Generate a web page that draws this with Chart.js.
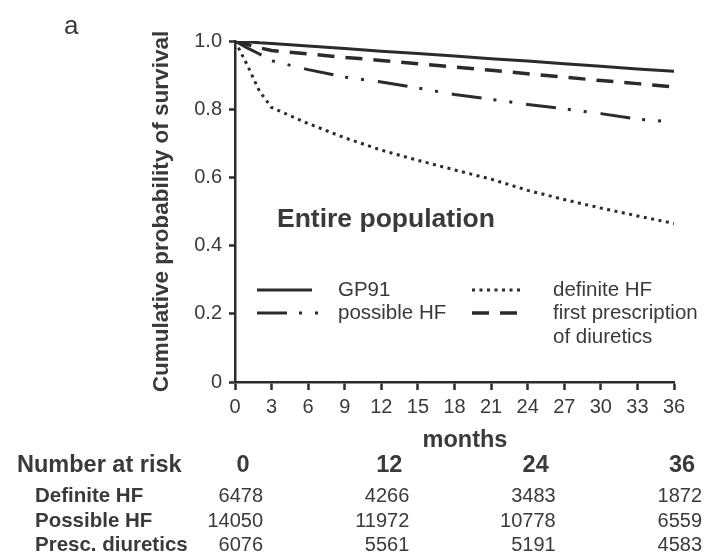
<!DOCTYPE html>
<html>
<head>
<meta charset="utf-8">
<script src="https://cdn.jsdelivr.net/npm/chart.js@4"></script>
<style>
  html, body { margin: 0; padding: 0; background: #fff; }
  canvas { display: block; }
</style>
</head>
<body>
<canvas id="survivalChart" width="707" height="558"></canvas>
<script>
// months on the x axis, survival
const months = [0, 1, 2, 3, 6, 9, 12, 15, 18, 21, 24, 27, 30, 33, 36];
const gp91 = [1.0, 0.998, 0.995, 0.993, 0.985, 0.978, 0.970, 0.963, 0.956, 0.948, 0.941, 0.933, 0.926, 0.918, 0.911];
const definiteHF = [1.0, 0.93, 0.853, 0.805, 0.758, 0.716, 0.68, 0.65, 0.622, 0.595, 0.562, 0.535, 0.51, 0.487, 0.465];
const possibleHF = [1.0, 0.98, 0.962, 0.942, 0.916, 0.894, 0.88, 0.862, 0.843, 0.829, 0.814, 0.801, 0.787, 0.771, 0.762];
const diuretics = [1.0, 0.99, 0.98, 0.972, 0.962, 0.952, 0.943, 0.933, 0.924, 0.914, 0.904, 0.894, 0.884, 0.875, 0.865];

const xTickValues = [0, 3, 6, 9, 12, 15, 18, 21, 24, 27, 30, 33, 36];
const yTickValues = [0, 0.2, 0.4, 0.6, 0.8, 1.0];

// number at risk table
const riskMonths = [0, 12, 24, 36];
const riskRowLabels = ['Definite HF', 'Possible HF', 'Presc. diuretics'];
const riskDefinite = [6478, 4266, 3483, 1872];
const riskPossible = [14050, 11972, 10778, 6559];
const riskDiuretics = [6076, 5561, 5191, 4583];

const ink = '#2b2b2b';
const textGray = '#3a3a3a';
const fontFam = '"Liberation Sans", Arial, Helvetica, sans-serif';

function pts(ys) {
    return months.map((m, i) => ({ x: m, y: ys[i] }));
}

const dsBase = { borderColor: ink, pointRadius: 0, tension: 0, fill: false, borderCapStyle: 'butt' };

const datasets = [
    Object.assign({}, dsBase, { label: 'GP91', data: pts(gp91), borderWidth: 3, borderDash: [] }),
    Object.assign({}, dsBase, { label: 'definite HF', data: pts(definiteHF), borderWidth: 3, borderDash: [3, 4.5] }),
    Object.assign({}, dsBase, { label: 'possible HF', data: pts(possibleHF), borderWidth: 3, borderDash: [30, 12, 3, 13, 3, 14] }),
    Object.assign({}, dsBase, { label: 'first prescription\nof diuretics', data: pts(diuretics), borderWidth: 3.5, borderDash: [17, 11] })
];

// legend slots: [lineStartX, lineLength, textX, rowY]
const legendSlots = [
    [257, 55, 338, 290],
    [472, 51, 553, 290],
    [257, 62, 338, 313],
    [472, 45, 553, 313]
];

const annotations = {
    id: 'annotations',
    afterDraw(chart) {
        const c = chart.ctx;
        const xs = chart.scales.x;
        const area = chart.chartArea;
        c.save();
        c.fillStyle = textGray;
        c.textBaseline = 'middle';

        // panel letter
        c.font = '26px ' + fontFam;
        c.textAlign = 'left';
        c.fillText('a', 64, 27);

        // y axis title
        c.save();
        c.translate(162, (area.top + area.bottom) / 2);
        c.rotate(-Math.PI / 2);
        c.textAlign = 'center';
        c.font = 'bold 22.5px ' + fontFam;
        c.fillText('Cumulative probability of survival', 0, 0);
        c.restore();

        // x axis title
        c.textAlign = 'center';
        c.font = 'bold 23.5px ' + fontFam;
        c.fillText('months', 465, 441);

        // inset title
        c.textAlign = 'left';
        c.font = 'bold 26.5px ' + fontFam;
        c.fillText('Entire population', 277, 220);

        // legend
        chart.data.datasets.forEach((ds, i) => {
            const s = legendSlots[i];
            c.save();
            c.strokeStyle = ds.borderColor;
            c.lineWidth = ds.borderWidth;
            c.setLineDash(ds.borderDash);
            c.beginPath();
            c.moveTo(s[0], s[3]);
            c.lineTo(s[0] + s[1], s[3]);
            c.stroke();
            c.restore();
            c.font = '20.5px ' + fontFam;
            c.textAlign = 'left';
            ds.label.split('\n').forEach((line, k) => {
                c.fillText(line, s[2], s[3] + k * 24.5);
            });
        });

        // number at risk
        c.font = 'bold 23.5px ' + fontFam;
        c.textAlign = 'left';
        c.fillText('Number at risk', 17, 466);
        c.textAlign = 'center';
        riskMonths.forEach(m => {
            c.fillText(String(m), xs.getPixelForValue(m) + 8, 466);
        });
        const rows = [riskDefinite, riskPossible, riskDiuretics];
        const rowY = [496, 521, 545];
        rows.forEach((vals, r) => {
            c.font = 'bold 20.5px ' + fontFam;
            c.textAlign = 'left';
            c.fillText(riskRowLabels[r], 35, rowY[r]);
            c.font = '20px ' + fontFam;
            c.textAlign = 'right';
            vals.forEach((v, k) => {
                c.fillText(String(v), xs.getPixelForValue(riskMonths[k]) + 28, rowY[r]);
            });
        });
        c.restore();
    }
};

const ctx = document.getElementById('survivalChart').getContext('2d');

new Chart(ctx, {
    type: 'line',
    data: { datasets: datasets },
    options: {
        responsive: false,
        animation: false,
        layout: { padding: { left: 165, right: 33, top: 41, bottom: 136 } },
        plugins: {
            legend: { display: false },
            tooltip: { enabled: false }
        },
        scales: {
            x: {
                type: 'linear',
                min: 0,
                max: 36,
                afterBuildTicks: axis => { axis.ticks = xTickValues.map(v => ({ value: v })); },
                afterFit: axis => { axis.height = 40; },
                grid: { drawOnChartArea: false, tickLength: 8, tickWidth: 2.5, color: ink },
                border: { color: ink, width: 2.5 },
                ticks: { color: textGray, padding: 5, maxRotation: 0, autoSkip: false, font: { family: fontFam, size: 20 } }
            },
            y: {
                min: 0,
                max: 1.0,
                afterBuildTicks: axis => { axis.ticks = yTickValues.map(v => ({ value: v })); },
                afterFit: axis => { axis.width = 70; },
                grid: { drawOnChartArea: false, tickLength: 6, tickWidth: 2.5, color: ink },
                border: { color: ink, width: 2.5 },
                ticks: {
                    color: textGray,
                    padding: 7,
                    font: { family: fontFam, size: 20 },
                    callback: v => (v === 0 ? '0' : v.toFixed(1))
                }
            }
        }
    },
    plugins: [annotations]
});
</script>
</body>
</html>
